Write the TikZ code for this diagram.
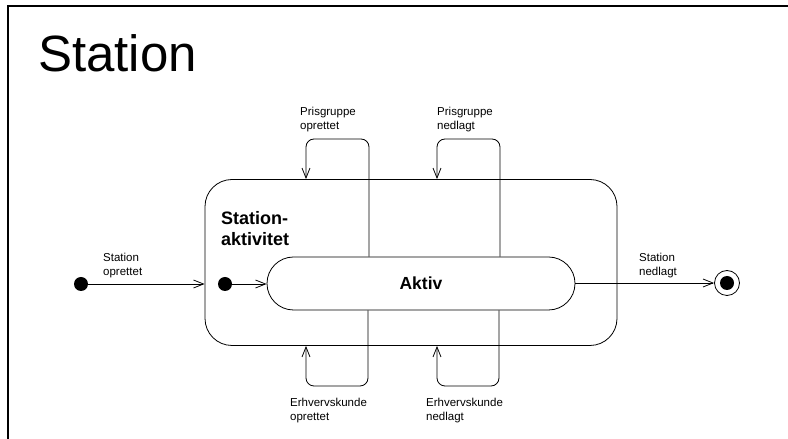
\documentclass[tikz,border=0pt]{standalone}
\usepackage{fontspec}
\setmainfont{Liberation Sans}
\usetikzlibrary{
    arrows.meta,
    positioning,
    calc
}
\tikzset{
    % --- Composite state (rounded box) ---
    superstate/.style = {
        rectangle, draw, line width=0.8pt,
        rounded corners=27pt,
        minimum width=412pt, minimum height=166pt
    },
    % --- Simple state (stadium shape) ---
    simplestate/.style = {
        rectangle, draw, line width=0.8pt,
        rounded corners=26.5pt,
        minimum width=308pt, minimum height=53pt,
        font=\fontsize{17.5}{21}\selectfont\bfseries
    },
    % --- Initial pseudostate ---
    initdot/.style = {
        circle, fill=black,
        minimum size=14pt, inner sep=0pt
    },
    % --- Final state ring ---
    finalring/.style = {
        circle, draw, line width=0.8pt, fill=white,
        minimum size=25pt, inner sep=0pt
    },
    % --- Transition label ---
    event/.style = {
        font=\fontsize{11.5}{13.5}\selectfont,
        align=left, inner sep=0pt, anchor=north west
    },
    % --- Transition arrow ---
    trans/.style = {
        line width=0.8pt,
        -{Straight Barb[length=10pt,width=8pt]}
    }
}

\begin{document}
\begin{tikzpicture}[x=1pt, y=1pt]

% ---------------------------------------------------------
% Frame and title
% ---------------------------------------------------------
\useasboundingbox (0,0) rectangle (788,439);
\clip (0,0) rectangle (788,439);
\draw[line width=1.6pt] (8,-20) -- (8,433) -- (810,433);
\node[anchor=base west, inner sep=0pt, font=\fontsize{51}{60}\selectfont]
    (title) at (38,367) {Station};

% ---------------------------------------------------------
% 1. States
% ---------------------------------------------------------
\node[superstate] (aktivitet) at (411,176.5) {};
\node[event, anchor=north west, font=\fontsize{18}{21}\selectfont\bfseries]
    (aktivitetlbl) at (221,227.3) {Station-\\aktivitet};
\node[simplestate] (aktiv) at (421,155.5) {Aktiv};

% ---------------------------------------------------------
% 2. Pseudostates
% ---------------------------------------------------------
\node[initdot] (start) at (81,155) {};
\node[initdot] (substart) at (225,155) {};
\node[finalring] (stop) at (727,156) {};
\node[initdot] (stopcore) at (stop.center) {};

% ---------------------------------------------------------
% 3. Entry and exit transitions
% ---------------------------------------------------------
\draw[trans] (start) -- (start -| aktivitet.west);
\draw[trans] (substart) -- (substart -| aktiv.west);
\draw[trans] (aktiv.east |- stop) -- (stop);

\node[event] (oprettetlbl) at (103,186) {Station\\oprettet};
\node[event] (nedlagtlbl) at (639,186) {Station\\nedlagt};

% ---------------------------------------------------------
% 4. Self transitions (loops over the border)
% ---------------------------------------------------------
\coordinate (pgoA) at (369,300);
\coordinate (pgoB) at (306,300);
\coordinate (pgnA) at (500,300);
\coordinate (pgnB) at (437,300);
\coordinate (evoA) at (368,53);
\coordinate (evoB) at (306,53);
\coordinate (evnA) at (499,53);
\coordinate (evnB) at (437,53);

\draw[trans, rounded corners=8pt]
    (aktiv.north -| pgoA) -- (pgoA) -- (pgoB) -- (pgoB |- aktivitet.north);
\draw[trans, rounded corners=8pt]
    (aktiv.north -| pgnA) -- (pgnA) -- (pgnB) -- (pgnB |- aktivitet.north);
\draw[trans, rounded corners=8pt]
    (aktiv.south -| evoA) -- (evoA) -- (evoB) -- (evoB |- aktivitet.south);
\draw[trans, rounded corners=8pt]
    (aktiv.south -| evnA) -- (evnA) -- (evnB) -- (evnB |- aktivitet.south);

\node[event] (pgolbl) at (300,332) {Prisgruppe\\oprettet};
\node[event] (pgnlbl) at (437,332) {Prisgruppe\\nedlagt};
\node[event] (evolbl) at (290,41) {Erhvervskunde\\oprettet};
\node[event] (evnlbl) at (426,41) {Erhvervskunde\\nedlagt};

\end{tikzpicture}
\end{document}
